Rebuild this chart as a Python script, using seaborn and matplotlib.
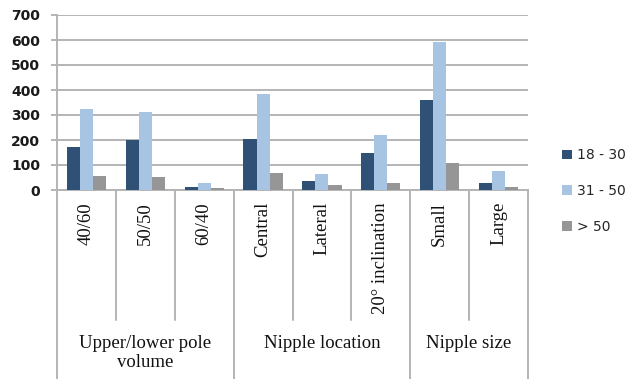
import matplotlib
matplotlib.use("Agg")
import matplotlib.pyplot as plt
import seaborn as sns
import pandas as pd
from matplotlib.patches import Patch
from matplotlib.transforms import blended_transform_factory

# Category labels along the x axis and their groupings
categories = ["40/60", "50/50", "60/40", "Central", "Lateral",
              "20° inclination", "Small", "Large"]
groups = ["Upper/lower pole\nvolume", "Nipple location", "Nipple size"]
group_sizes = [3, 3, 2]

# Counts per age band
age_bands = ["18 - 30", "31 - 50", "> 50"]
age_18_30 = [173, 200, 13, 204, 37, 147, 360, 29]
age_31_50 = [325, 313, 29, 384, 65, 220, 591, 76]
age_over_50 = [57, 53, 7, 68, 19, 29, 107, 13]

colors = ["#2f5176", "#a7c4e3", "#969696"]
grid_color = "#b4b4b4"

df = pd.DataFrame({
    "category": categories * 3,
    "age": [age_bands[0]] * 8 + [age_bands[1]] * 8 + [age_bands[2]] * 8,
    "count": age_18_30 + age_31_50 + age_over_50,
})

sns.set_theme(style="white")
plt.rcParams["font.family"] = ["DejaVu Sans"]

W, H = 630, 379
fig = plt.figure(figsize=(W / 100, H / 100), dpi=100)
left, right, top, bottom = 57, 528, 15, 190
ax = fig.add_axes([left / W, 1 - bottom / H, (right - left) / W, (bottom - top) / H])

sns.barplot(data=df, x="category", y="count", hue="age", order=categories,
            hue_order=age_bands, palette=colors, width=0.667, gap=0,
            saturation=1, linewidth=0, ax=ax, legend=False, zorder=3)

ax.set_xlim(-0.5, len(categories) - 0.5)
ax.set_ylim(0, 700)
ax.set_yticks(range(0, 701, 100))
ax.set_xlabel("")
ax.set_ylabel("")
ax.yaxis.grid(True, color=grid_color, linewidth=1.4, zorder=0)
ax.set_axisbelow(True)

for s in ["top", "right"]:
    ax.spines[s].set_visible(False)
for s in ["left", "bottom"]:
    ax.spines[s].set_color(grid_color)
    ax.spines[s].set_linewidth(1.4)

ax.tick_params(axis="y", which="both", left=True, length=4, width=1.4,
               color=grid_color, pad=8, labelsize=10)
for lab in ax.get_yticklabels():
    lab.set_fontweight("bold")
    lab.set_color("#1a1a1a")

# Category labels, rotated, in a serif face
ax.set_xticks(range(len(categories)))
ax.set_xticklabels([])
ax.tick_params(axis="x", bottom=False, length=0)
trans = blended_transform_factory(ax.transData, ax.transAxes)
axis_h = bottom - top
for i, cat in enumerate(categories):
    ax.text(i, -12 / axis_h, cat, transform=trans, rotation=90, ha="center",
            va="top", fontsize=13.5, family="Liberation Serif", color="#111111",
            clip_on=False)

# Separators below the axis: short ones between categories, long ones between groups
inner_end = -(320 - bottom) / axis_h
outer_end = -(H - bottom + 2) / axis_h
group_edges = [0]
for n in group_sizes:
    group_edges.append(group_edges[-1] + n)
for b in range(len(categories) + 1):
    x = b - 0.5
    end = outer_end if b in group_edges else inner_end
    ax.plot([x, x], [0, end], transform=trans, color=grid_color,
            linewidth=1.4, clip_on=False, zorder=1)

# Group labels under the separators
for g, label in enumerate(groups):
    cx = (group_edges[g] + group_edges[g + 1] - 1) / 2
    ax.text(cx, -(335 - bottom) / axis_h, label, transform=trans, ha="center",
            va="top", fontsize=13.5, family="Liberation Serif", color="#111111",
            linespacing=1.15, clip_on=False)

handles = [Patch(facecolor=c, edgecolor="none", label=l)
           for c, l in zip(colors, age_bands)]
fig.legend(handles=handles, loc="center left",
           bbox_to_anchor=(562 / W, 1 - 191 / H), frameon=False,
           fontsize=10, handlelength=0.7, handleheight=0.7,
           handletextpad=0.4, labelspacing=1.55, borderpad=0,
           borderaxespad=0)

fig.savefig("out.png", dpi=100)
